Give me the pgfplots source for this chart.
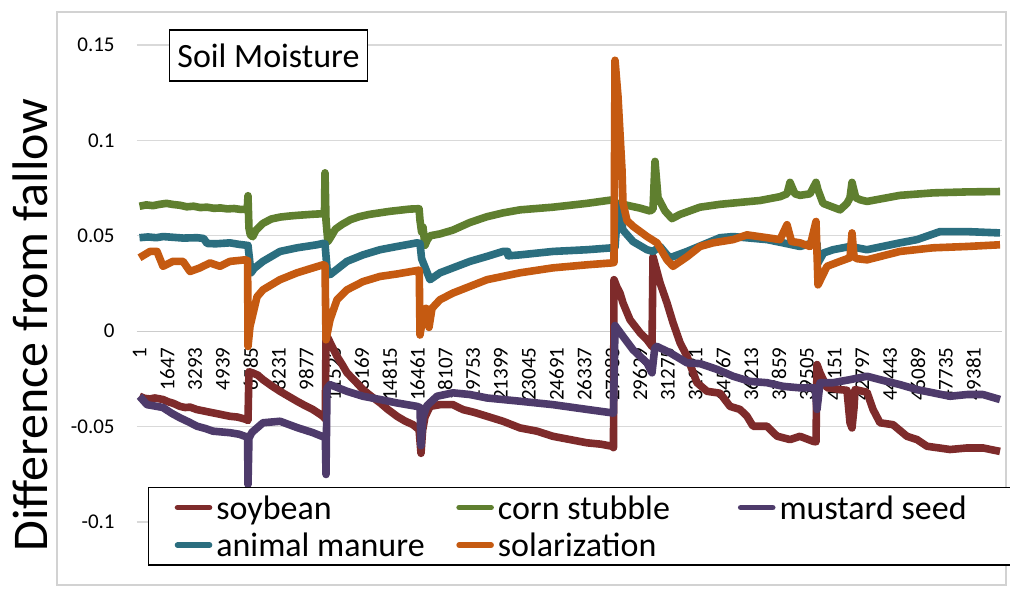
\documentclass[border=0pt]{standalone}
\usepackage{fontspec}
\setmainfont{Carlito}
\usepackage{pgfplots}
\pgfplotsset{compat=1.18}
\definecolor{soy}{HTML}{7E2B2B}
\definecolor{corn}{HTML}{5F7F2F}
\definecolor{must}{HTML}{4E3B6B}
\definecolor{manure}{HTML}{2B6E7F}
\definecolor{solar}{HTML}{C55A11}
\begin{document}
\begin{tikzpicture}
\useasboundingbox (-68.5pt,-35.5pt) rectangle (436.5pt,261pt);
\fill[white] (-68.5pt,-35.5pt) rectangle (436.5pt,261pt);
\draw[gray!35, line width=0.75pt] (-40pt,-31.5pt) rectangle (434.5pt,255pt);
\begin{axis}[
  at={(0pt,0pt)}, anchor=south west,
  scale only axis, width=432.5pt, height=238.5pt,
  xmin=-148, xmax=51060, ymin=-0.1, ymax=0.15,
  axis x line=middle, axis y line=left,
  axis line style={-},
  x axis line style={draw=gray!40, line width=0.6pt},
  y axis line style={draw=none},
  major tick length=0pt,
  scaled x ticks=false, scaled y ticks=false,
  hide obscured x ticks=false, hide obscured y ticks=false,
  ytick={-0.1,-0.05,0,0.05,0.1,0.15},
  yticklabels={-0.1,-0.05,0,0.05,0.1,0.15},
  xtick={1,1647,3293,4939,6585,8231,9877,11523,13169,14815,16461,18107,19753,21399,23045,24691,26337,27983,29629,31275,32921,34567,36213,37859,39505,41151,42797,44443,46089,47735,49381},
  xticklabels={1,1647,3293,4939,6585,8231,9877,11523,13169,14815,16461,18107,19753,21399,23045,24691,26337,27983,29629,31275,32921,34567,36213,37859,39505,41151,42797,44443,46089,47735,49381},
  ymajorgrids, grid style={gray!30, line width=0.6pt},
  yticklabel style={font=\fontsize{10.5}{12}\selectfont, anchor=east, inner xsep=0pt, xshift=-11pt},
  xticklabel style={font=\fontsize{10.5}{12}\selectfont, rotate=90, anchor=east, inner xsep=8pt},
  ylabel={Difference from fallow},
  every axis y label/.style={at={(axis description cs:-0.1237,0.413)}, rotate=90, anchor=center, font=\fontsize{25}{28}\selectfont},
  legend columns=3,
  legend style={at={(axis description cs:0.0127,0.0734)}, anchor=north west, draw=black, line width=0.75pt, fill=white,
     font=\fontsize{17}{19}\selectfont, inner xsep=13pt, inner ysep=0.5pt, cells={anchor=west}},
  legend image code/.code={\draw[#1, line width=2.8pt, line cap=round] (0pt,0pt) -- (16pt,0pt);},
  every axis plot/.append style={line width=3.8pt, line join=round},
]
% soybean
\addplot[soy] coordinates {(1,-0.0341) (300,-0.0352) (622,-0.0355) (900,-0.0350) (1391,-0.0358) (1700,-0.0370) (2000,-0.0378) (2398,-0.0394) (2700,-0.0400) (3000,-0.0398) (3404,-0.0411) (3800,-0.0418) (4351,-0.0428) (4800,-0.0436) (5358,-0.0446) (5800,-0.0450) (6300,-0.0462) (6423,-0.0468) (6480,-0.0212) (6660,-0.0218) (7000,-0.0230) (7311,-0.0254) (7800,-0.0285) (8318,-0.0315) (8800,-0.0340) (9324,-0.0367) (9800,-0.0390) (10271,-0.0411) (10600,-0.0430) (10863,-0.0446) (11000,-0.0460) (11041,-0.0020) (11150,-0.0035) (11400,-0.0080) (11692,-0.0132) (12000,-0.0175) (12284,-0.0218) (12800,-0.0265) (13231,-0.0306) (13700,-0.0340) (14238,-0.0375) (14700,-0.0410) (15244,-0.0446) (15700,-0.0470) (16191,-0.0490) (16550,-0.0516) (16665,-0.0640) (16760,-0.0520) (16900,-0.0450) (17198,-0.0394) (17790,-0.0385) (18559,-0.0385) (19151,-0.0411) (19800,-0.0425) (20572,-0.0446) (21519,-0.0472) (22526,-0.0507) (23532,-0.0524) (24479,-0.0551) (25486,-0.0568) (26492,-0.0585) (27300,-0.0592) (27972,-0.0603) (28060,-0.0610) (28090,0.0270) (28268,0.0230) (28446,0.0200) (28623,0.0148) (29038,0.0060) (29630,-0.0008) (30044,-0.0045) (30340,-0.0080) (30400,0.0390) (30814,0.0254) (31228,0.0148) (31583,0.0045) (31998,-0.0060) (32413,-0.0132) (33004,-0.0270) (33597,-0.0315) (34366,-0.0325) (34958,-0.0394) (35550,-0.0410) (35964,-0.0446) (36320,-0.0498) (37149,-0.0498) (37741,-0.0550) (38510,-0.0568) (39102,-0.0551) (39872,-0.0577) (40049,-0.0580) (40108,-0.0175) (40286,-0.0218) (40701,-0.0296) (41470,-0.0306) (41884,-0.0310) (42062,-0.0480) (42180,-0.0507) (42300,-0.0400) (42358,-0.0306) (43069,-0.0320) (43424,-0.0410) (43838,-0.0480) (44608,-0.0490) (45436,-0.0551) (46028,-0.0568) (46620,-0.0603) (47982,-0.0620) (48989,-0.0612) (49936,-0.0612) (50942,-0.0630)};
\addlegendentry{\strut\makebox[118pt][l]{soybean}}
% corn stubble
\addplot[corn] coordinates {(1,0.0655) (400,0.0662) (800,0.0658) (1200,0.0665) (1600,0.0670) (2000,0.0664) (2400,0.0660) (2800,0.0652) (3200,0.0655) (3600,0.0648) (4000,0.0650) (4400,0.0644) (4800,0.0646) (5200,0.0641) (5600,0.0643) (6000,0.0638) (6380,0.0640) (6423,0.0710) (6480,0.0540) (6560,0.0505) (6700,0.0495) (6900,0.0530) (7311,0.0565) (7800,0.0588) (8318,0.0598) (8800,0.0603) (9324,0.0607) (9800,0.0610) (10271,0.0613) (10700,0.0615) (10950,0.0615) (10982,0.0830) (11041,0.0580) (11150,0.0470) (11300,0.0490) (11600,0.0535) (12000,0.0560) (12500,0.0585) (13000,0.0600) (13600,0.0612) (14200,0.0620) (14800,0.0628) (15400,0.0634) (16000,0.0640) (16550,0.0642) (16606,0.0580) (16700,0.0520) (16783,0.0545) (16900,0.0450) (17020,0.0475) (17198,0.0500) (17790,0.0510) (18559,0.0530) (19566,0.0570) (20572,0.0600) (21519,0.0620) (22526,0.0636) (23500,0.0643) (24479,0.0650) (25486,0.0660) (26492,0.0670) (27300,0.0680) (27972,0.0688) (28268,0.0670) (28860,0.0660) (29630,0.0645) (30222,0.0630) (30400,0.0640) (30518,0.0890) (30696,0.0700) (31110,0.0630) (31524,0.0590) (31998,0.0612) (33182,0.0650) (34366,0.0665) (35550,0.0675) (36734,0.0685) (37918,0.0705) (38332,0.0720) (38510,0.0780) (38800,0.0720) (39102,0.0712) (39694,0.0720) (40049,0.0780) (40168,0.0740) (40464,0.0670) (41056,0.0650) (41470,0.0636) (41884,0.0670) (42062,0.0700) (42180,0.0780) (42400,0.0700) (42654,0.0689) (43069,0.0680) (45022,0.0712) (46976,0.0725) (48989,0.0730) (50942,0.0732)};
\addlegendentry{\strut\makebox[118pt][l]{corn stubble}}
% mustard seed
\addplot[must] coordinates {(1,-0.0341) (444,-0.0385) (900,-0.0392) (1391,-0.0400) (1900,-0.0430) (2398,-0.0454) (2900,-0.0475) (3404,-0.0498) (3900,-0.0510) (4351,-0.0524) (5358,-0.0532) (5900,-0.0540) (6246,-0.0551) (6400,-0.0555) (6423,-0.0804) (6480,-0.0560) (6660,-0.0530) (7311,-0.0480) (8318,-0.0472) (9324,-0.0505) (10271,-0.0532) (10804,-0.0551) (11000,-0.0555) (11041,-0.0751) (11100,-0.0300) (11278,-0.0280) (12284,-0.0315) (13231,-0.0341) (14238,-0.0358) (15244,-0.0376) (16428,-0.0394) (16606,-0.0400) (16665,-0.0600) (16783,-0.0450) (17020,-0.0390) (17612,-0.0341) (18559,-0.0323) (19566,-0.0332) (20572,-0.0350) (22526,-0.0367) (24479,-0.0385) (26492,-0.0410) (27972,-0.0428) (28060,-0.0430) (28150,0.0030) (28623,-0.0027) (29215,-0.0097) (30044,-0.0166) (30340,-0.0218) (30500,-0.0090) (30636,-0.0080) (31406,-0.0113) (32413,-0.0166) (33182,-0.0170) (34189,-0.0200) (35136,-0.0236) (36142,-0.0263) (37149,-0.0270) (38096,-0.0289) (39102,-0.0297) (39990,-0.0297) (40108,-0.0410) (40286,-0.0270) (41056,-0.0270) (42062,-0.0254) (43069,-0.0236) (43838,-0.0254) (45022,-0.0280) (46028,-0.0306) (46976,-0.0323) (47982,-0.0341) (48989,-0.0332) (49936,-0.0332) (50942,-0.0358)};
\addlegendentry{\strut\makebox[101.5pt][l]{mustard seed}}
% animal manure
\addplot[manure] coordinates {(1,0.0490) (500,0.0494) (1000,0.0490) (1391,0.0496) (2000,0.0492) (2600,0.0488) (3404,0.0490) (3800,0.0486) (3996,0.0460) (4500,0.0458) (5358,0.0463) (5900,0.0455) (6364,0.0450) (6423,0.0450) (6600,0.0306) (6800,0.0330) (7311,0.0366) (8318,0.0418) (9324,0.0437) (10508,0.0453) (10863,0.0460) (10982,0.0458) (11100,0.0330) (11278,0.0296) (12284,0.0366) (13231,0.0400) (14238,0.0427) (15244,0.0444) (16428,0.0463) (16606,0.0460) (16700,0.0380) (17198,0.0270) (17790,0.0306) (18559,0.0332) (19566,0.0366) (20572,0.0392) (21519,0.0418) (21800,0.0418) (21815,0.0395) (22526,0.0400) (24479,0.0418) (26492,0.0427) (27972,0.0437) (28150,0.0440) (28327,0.0660) (28623,0.0530) (29215,0.0470) (30044,0.0427) (30400,0.0418) (30814,0.0444) (31228,0.0400) (31406,0.0385) (32413,0.0418) (33360,0.0453) (34366,0.0490) (35136,0.0496) (37149,0.0480) (38096,0.0463) (39102,0.0444) (39872,0.0463) (40108,0.0460) (40168,0.0358) (40500,0.0410) (41056,0.0427) (42062,0.0444) (43069,0.0427) (45022,0.0463) (46028,0.0480) (47390,0.0522) (48989,0.0522) (50942,0.0515)};
\addlegendentry{\strut\makebox[118pt][l]{animal manure}}
% solarization
\addplot[solar] coordinates {(1,0.0385) (622,0.0418) (1036,0.0418) (1391,0.0340) (1983,0.0366) (2575,0.0366) (2990,0.0313) (3582,0.0332) (4174,0.0358) (4766,0.0340) (5358,0.0366) (6246,0.0374) (6400,0.0370) (6423,-0.0080) (6542,0.0025) (6956,0.0180) (7311,0.0217) (8318,0.0270) (9324,0.0306) (10271,0.0332) (10863,0.0348) (10982,0.0345) (11041,-0.0045) (11278,0.0060) (11692,0.0165) (12284,0.0217) (13231,0.0260) (14238,0.0287) (15244,0.0300) (16428,0.0318) (16560,0.0320) (16606,-0.0020) (16783,0.0080) (16961,0.0120) (17138,0.0020) (17316,0.0120) (17790,0.0165) (18559,0.0200) (19566,0.0235) (20572,0.0270) (22526,0.0306) (24479,0.0332) (26492,0.0348) (27972,0.0358) (28090,0.0360) (28150,0.1420) (28327,0.1230) (28564,0.0846) (28623,0.0670) (28860,0.0580) (29215,0.0550) (30044,0.0496) (30636,0.0463) (31228,0.0374) (31583,0.0340) (32413,0.0390) (33182,0.0444) (33952,0.0463) (35136,0.0480) (35964,0.0505) (37149,0.0490) (37918,0.0480) (38332,0.0558) (38600,0.0470) (39102,0.0463) (39694,0.0444) (40049,0.0575) (40168,0.0243) (40701,0.0340) (41470,0.0366) (42062,0.0385) (42180,0.0515) (42300,0.0390) (42477,0.0380) (43069,0.0374) (45022,0.0418) (46976,0.0437) (48989,0.0444) (50942,0.0453)};
\addlegendentry{\strut\makebox[118pt][l]{solarization}}
\end{axis}
\node[draw=black, line width=0.75pt, fill=white, font=\fontsize{17}{20}\selectfont, inner xsep=4pt, minimum height=25.5pt] at (65.75pt,233.25pt) {Soil Moisture};
\end{tikzpicture}
\end{document}
